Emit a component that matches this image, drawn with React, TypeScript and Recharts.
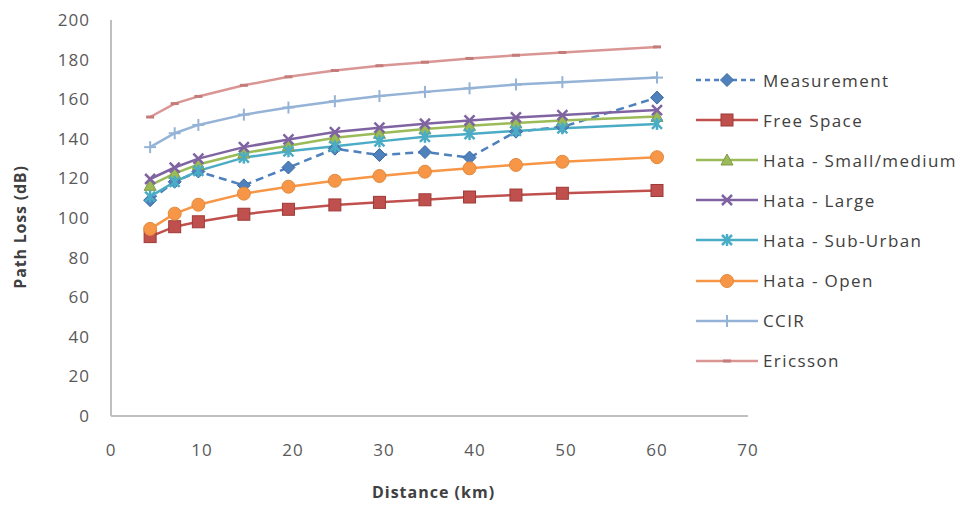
import React from 'react';
import { LineChart, Line, XAxis, YAxis, Label } from 'recharts';

// distances (km) of the sample points
const distances = [4.3, 7.0, 9.6, 14.6, 19.5, 24.6, 29.5, 34.5, 39.4, 44.5, 49.6, 60];

const measurement = [109, 118.3, 123.5, 116.5, 125.5, 135, 131.8, 133.3, 130.5, 143.6, 146, 160.8];
const freeSpace = [90.6, 95.6, 98.1, 101.9, 104.4, 106.6, 107.9, 109.2, 110.6, 111.6, 112.5, 113.9];
const hataSmall = [116.5, 122.5, 127, 132.8, 136.5, 140.5, 142.8, 145, 146.6, 148, 149.2, 151.3];
const hataLarge = [119.7, 125.5, 130, 135.8, 139.7, 143.4, 145.6, 147.6, 149.3, 150.8, 152, 154.5];
const hataSubUrban = [110.8, 118.3, 123.8, 130.5, 133.7, 136.2, 138.7, 141, 142.4, 144, 145.3, 147.5];
const hataOpen = [94.5, 102.2, 106.7, 112.3, 115.8, 118.8, 121.2, 123.4, 125.1, 126.8, 128.4, 130.7];
const ccir = [135.8, 142.8, 147, 152.2, 155.8, 159, 161.6, 163.7, 165.5, 167.4, 168.6, 170.9];
const ericsson = [151, 157.8, 161.4, 167, 171.3, 174.5, 176.9, 178.7, 180.6, 182.2, 183.6, 186.4];

const yTicks = [0, 20, 40, 60, 80, 100, 120, 140, 160, 180, 200];
const xTicks = [0, 10, 20, 30, 40, 50, 60, 70];

const FONT = '"Open Sans", Lato, sans-serif';

type Marker = 'diamond' | 'square' | 'triangle' | 'x' | 'star' | 'circle' | 'plus' | 'dash';

const SERIES: { key: string; name: string; values: number[]; color: string; marker: Marker; dash?: string }[] = [
  { key: 'meas', name: 'Measurement', values: measurement, color: '#4F81BD', marker: 'diamond', dash: '8 5' },
  { key: 'free', name: 'Free Space', values: freeSpace, color: '#C0504D', marker: 'square' },
  { key: 'small', name: 'Hata - Small/medium', values: hataSmall, color: '#9BBB59', marker: 'triangle' },
  { key: 'large', name: 'Hata - Large', values: hataLarge, color: '#8064A2', marker: 'x' },
  { key: 'sub', name: 'Hata - Sub-Urban', values: hataSubUrban, color: '#4BACC6', marker: 'star' },
  { key: 'open', name: 'Hata - Open', values: hataOpen, color: '#F79646', marker: 'circle' },
  { key: 'ccir', name: 'CCIR', values: ccir, color: '#95B3D7', marker: 'plus' },
  { key: 'eric', name: 'Ericsson', values: ericsson, color: '#D99694', marker: 'dash' },
];

const data = distances.map((d, i) => {
  const row: Record<string, number> = { d };
  SERIES.forEach((s) => {
    row[s.key] = s.values[i];
  });
  return row;
});

function MarkerShape({ type, cx, cy, color }: { type: Marker; cx: number; cy: number; color: string }) {
  switch (type) {
    case 'diamond':
      return <polygon points={`${cx},${cy - 6.5} ${cx + 6.5},${cy} ${cx},${cy + 6.5} ${cx - 6.5},${cy}`} fill={color} stroke="#3B6AA0" strokeWidth={1} />;
    case 'square':
      return <rect x={cx - 6} y={cy - 6} width={12} height={12} fill={color} stroke="#9E3A37" strokeWidth={1} />;
    case 'triangle':
      return <polygon points={`${cx},${cy - 6} ${cx + 6},${cy + 5} ${cx - 6},${cy + 5}`} fill={color} stroke="#7E9A45" strokeWidth={1} />;
    case 'x':
      return (
        <g stroke={color} strokeWidth={2.5}>
          <line x1={cx - 5} y1={cy - 5} x2={cx + 5} y2={cy + 5} />
          <line x1={cx - 5} y1={cy + 5} x2={cx + 5} y2={cy - 5} />
        </g>
      );
    case 'star':
      return (
        <g stroke={color} strokeWidth={2.5}>
          <line x1={cx - 5} y1={cy - 5} x2={cx + 5} y2={cy + 5} />
          <line x1={cx - 5} y1={cy + 5} x2={cx + 5} y2={cy - 5} />
          <line x1={cx} y1={cy - 6} x2={cx} y2={cy + 6} />
        </g>
      );
    case 'circle':
      return <circle cx={cx} cy={cy} r={6.5} fill={color} stroke="#E08A3E" strokeWidth={1} />;
    case 'plus':
      return (
        <g stroke={color} strokeWidth={2}>
          <line x1={cx - 6} y1={cy} x2={cx + 6} y2={cy} />
          <line x1={cx} y1={cy - 6} x2={cx} y2={cy + 6} />
        </g>
      );
    case 'dash':
    default:
      return <line x1={cx - 4} y1={cy} x2={cx + 4} y2={cy} stroke="#C47C7A" strokeWidth={3} />;
  }
}

function LegendBox() {
  return (
    <div
      style={{
        position: 'absolute',
        left: 695,
        top: 60,
        fontFamily: FONT,
        fontSize: 17,
        letterSpacing: 1.4,
        color: '#404040',
      }}
    >
      {SERIES.map((s) => (
        <div key={s.key} style={{ display: 'flex', alignItems: 'center', height: 40.1 }}>
          <svg width={64} height={16} style={{ display: 'block' }}>
            <line x1={1} y1={8} x2={63} y2={8} stroke={s.color} strokeWidth={2.5} strokeDasharray={s.dash ? '5 4' : undefined} />
            <MarkerShape type={s.marker} cx={32} cy={8} color={s.color} />
          </svg>
          <span style={{ marginLeft: 4, whiteSpace: 'nowrap' }}>{s.name}</span>
        </div>
      ))}
    </div>
  );
}

export default function App() {
  const tickStyle = { fontSize: 17, fill: '#595959', fontFamily: FONT, letterSpacing: 1 };
  return (
    <div style={{ position: 'absolute', left: 0, top: 0, width: 963, height: 511, background: '#fff' }}>
      <LineChart width={963} height={511} data={data} margin={{ top: 20, right: 215, bottom: 0, left: 0 }}>
        <XAxis
          dataKey="d"
          type="number"
          domain={[0, 70]}
          ticks={xTicks}
          height={95}
          tickLine={false}
          tickSize={6}
          tickMargin={22}
          axisLine={{ stroke: '#BFBFBF', strokeWidth: 2 }}
          tick={tickStyle}
        >
          <Label
            content={({ viewBox }: any) => (
              <text
                x={viewBox.x + viewBox.width / 2 + 4}
                y={494}
                textAnchor="middle"
                dominantBaseline="middle"
                fontFamily={FONT}
                fontSize={16}
                fontWeight="bold"
                letterSpacing={1}
                fill="#404040"
              >
                Distance (km)
              </text>
            )}
          />
        </XAxis>
        <YAxis
          type="number"
          domain={[0, 200]}
          ticks={yTicks}
          width={111}
          tickLine={false}
          tickSize={6}
          tickMargin={15}
          axisLine={{ stroke: '#BFBFBF', strokeWidth: 2 }}
          tick={tickStyle}
        >
          <Label
            content={() => (
              <text
                x={22}
                y={227}
                transform="rotate(-90 22 227)"
                textAnchor="middle"
                dominantBaseline="middle"
                fontFamily={FONT}
                fontSize={16}
                fontWeight="bold"
                letterSpacing={0.8}
                fill="#404040"
              >
                Path Loss (dB)
              </text>
            )}
          />
        </YAxis>
        {SERIES.map((s) => (
          <Line
            key={s.key}
            dataKey={s.key}
            name={s.name}
            stroke={s.color}
            strokeWidth={2.5}
            strokeDasharray={s.dash}
            isAnimationActive={false}
            dot={(p: any) => <MarkerShape key={`${s.key}-${p.index}`} type={s.marker} cx={p.cx} cy={p.cy} color={s.color} />}
            activeDot={false}
          />
        ))}
      </LineChart>
      <LegendBox />
    </div>
  );
}
